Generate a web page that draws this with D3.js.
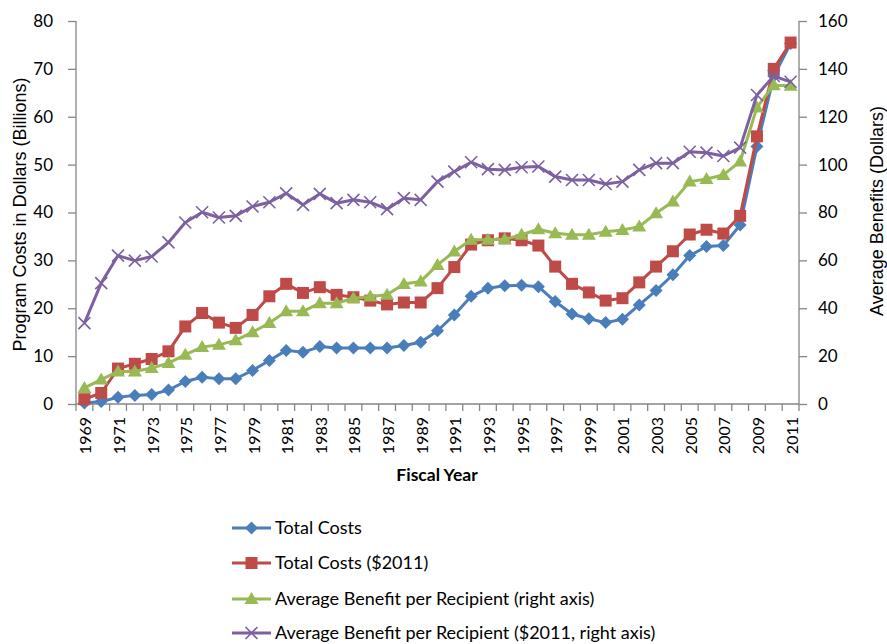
<!DOCTYPE html>
<html><head><meta charset="utf-8">
<script src="https://cdn.jsdelivr.net/npm/d3@7"></script>
<style>body{margin:0;background:#fff;} svg{display:block;font-family:Lato,'Open Sans',sans-serif;}</style>
</head><body><svg id="c" width="887" height="644"></svg>
<script>
const years = d3.range(1969, 2012);
const totalCosts = [0.2,0.5,1.4,1.8,2.0,2.9,4.7,5.6,5.3,5.3,7.0,9.1,11.2,10.8,12.0,11.7,11.7,11.7,11.7,12.2,12.9,15.3,18.6,22.5,24.2,24.7,24.8,24.5,21.4,18.8,17.8,17.0,17.7,20.7,23.7,27.0,31.0,32.9,33.1,37.4,53.8,68.5,75.3];
const totalCosts2011 = [1.0,2.3,7.4,8.4,9.4,11.0,16.2,19.0,17.0,15.9,18.6,22.5,25.1,23.2,24.4,22.8,22.3,21.6,20.8,21.2,21.2,24.2,28.6,33.3,34.2,34.6,34.2,33.1,28.7,25.1,23.3,21.6,22.1,25.4,28.7,31.9,35.4,36.4,35.6,39.3,55.9,70.0,75.5];
const avgBenefit = [6.7,10.2,13.6,13.6,15.0,17.1,20.6,23.8,24.7,26.6,30.0,33.8,38.7,38.7,42.1,42.1,44.2,44.9,45.6,50.1,51.2,58.1,63.7,68.6,68.6,68.8,70.7,73.0,71.3,70.7,70.7,72.0,72.7,74.1,79.7,84.6,92.9,94.0,95.7,101.3,123.9,133.2,133.0];
const avgBenefit2011 = [33.8,50.5,62.0,59.9,61.6,67.5,75.8,80.1,77.9,78.6,82.5,84.3,88.0,83.2,87.8,83.9,85.3,84.3,81.4,86.0,85.3,92.9,97.1,101.0,98.1,97.8,98.9,99.2,95.0,93.6,93.6,91.9,92.9,97.8,100.6,100.6,105.4,105.0,103.6,107.1,129.1,137.0,134.6];
const leftTicks = [0,10,20,30,40,50,60,70,80];
const rightTicks = [0,20,40,60,80,100,120,140,160];
const seriesNames = ["Total Costs","Total Costs ($2011)","Average Benefit per Recipient (right axis)","Average Benefit per Recipient ($2011, right axis)"];
const colors = ["#4A7EBB","#BE4B48","#98B954","#7D60A0"];

const svg = d3.select("#c");
const L = 76, R = 799, T = 21, B = 404;
const x = d3.scaleBand().domain(years).range([L, R]);
const yL = d3.scaleLinear().domain([0,80]).range([B, T]);
const yR = d3.scaleLinear().domain([0,160]).range([B, T]);
const axisColor = "#868686";

const gl = svg.append("g").attr("transform",`translate(${L},0)`)
  .call(d3.axisLeft(yL).tickValues(leftTicks).tickSize(8).tickPadding(15));
const gr = svg.append("g").attr("transform",`translate(${R},0)`)
  .call(d3.axisRight(yR).tickValues(rightTicks).tickSize(8).tickPadding(11));
[gl,gr].forEach(g=>{
  g.select(".domain").attr("stroke",axisColor).attr("stroke-width",1.3).attr("d", `M0,${T}V${B}`);
  g.selectAll(".tick line").attr("stroke",axisColor).attr("stroke-width",1.3);
  g.selectAll(".tick text").attr("fill","#000").style("font-size","17px").style("font-family","Lato,'Open Sans',sans-serif");
});

const gb = svg.append("g");
gb.append("line").attr("x1",L).attr("x2",R).attr("y1",B).attr("y2",B).attr("stroke",axisColor).attr("stroke-width",1.3);
years.forEach(yr=>{
  gb.append("line").attr("x1",x(yr)).attr("x2",x(yr)).attr("y1",B).attr("y2",B+7).attr("stroke",axisColor).attr("stroke-width",1.3);
});
gb.append("line").attr("x1",R).attr("x2",R).attr("y1",B).attr("y2",B+7).attr("stroke",axisColor).attr("stroke-width",1.3);
years.filter((d,i)=>i%2===0).forEach(yr=>{
  const cx = x(yr)+x.bandwidth()/2;
  gb.append("text").attr("transform",`translate(${cx+7},417) rotate(-90)`)
    .attr("text-anchor","end").style("font-size","16px").attr("fill","#000").text(yr);
});
svg.append("text").attr("x",437).attr("y",481).attr("text-anchor","middle")
  .style("font-size","17.5px").style("font-weight","bold").text("Fiscal Year");

svg.append("text").attr("transform",`translate(25.5,214.5) rotate(-90)`).attr("text-anchor","middle")
  .style("font-size","18px").style("font-family","'Liberation Sans',Arial,sans-serif").text("Program Costs in Dollars (Billions)");
svg.append("text").attr("transform",`translate(883,211) rotate(-90)`).attr("text-anchor","middle")
  .style("font-size","18px").style("font-family","'Liberation Sans',Arial,sans-serif").text("Average Benefits (Dollars)");

const cxF = d=>x(d)+x.bandwidth()/2;
function marker(g, type, color, px, py){
  if(type===0){
    g.append("path").attr("d",`M${px},${py-6.5}L${px+6.5},${py}L${px},${py+6.5}L${px-6.5},${py}Z`).attr("fill",color);
  } else if(type===1){
    g.append("rect").attr("x",px-6).attr("y",py-6).attr("width",12).attr("height",12).attr("fill",color);
  } else if(type===2){
    g.append("path").attr("d",`M${px},${py-7}L${px+7},${py+5}L${px-7},${py+5}Z`).attr("fill",color);
  } else {
    g.append("path").attr("d",`M${px-6},${py-6}L${px+6},${py+6}M${px-6},${py+6}L${px+6},${py-6}`).attr("stroke",color).attr("stroke-width",1.6);
  }
}
const data = [totalCosts,totalCosts2011,avgBenefit,avgBenefit2011];
const scales = [yL,yL,yR,yR];
data.forEach((arr,si)=>{
  const g = svg.append("g");
  const line = d3.line().x((d,i)=>cxF(years[i])).y(d=>scales[si](d));
  g.append("path").datum(arr).attr("d",line).attr("fill","none").attr("stroke",colors[si]).attr("stroke-width",3).attr("stroke-linejoin","round");
  arr.forEach((v,i)=>marker(g,si,colors[si],cxF(years[i]),scales[si](v)));
});

const legY = [528,563,599,633];
seriesNames.forEach((n,i)=>{
  const g = svg.append("g");
  g.append("line").attr("x1",232).attr("x2",271).attr("y1",legY[i]).attr("y2",legY[i]).attr("stroke",colors[i]).attr("stroke-width",3);
  marker(g,i,colors[i],251.5,legY[i]);
  g.append("text").attr("x",275).attr("y",legY[i]+6).style("font-size","18px").text(n);
});
</script></body></html>
